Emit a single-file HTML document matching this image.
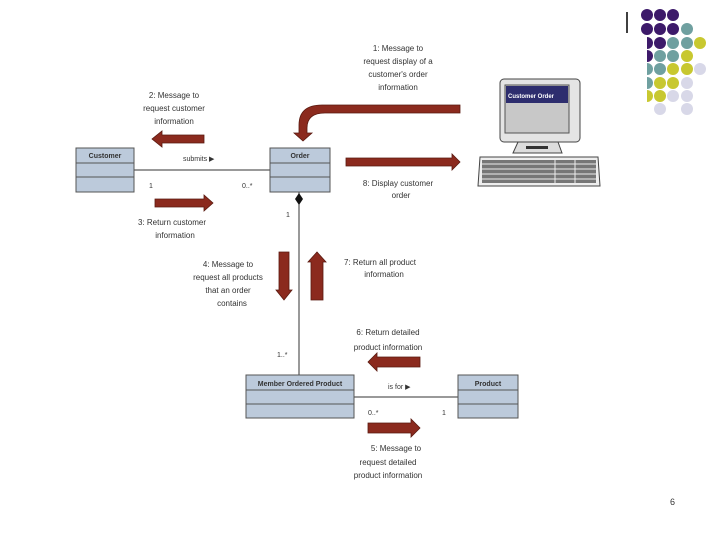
<!DOCTYPE html>
<html><head><meta charset="utf-8"><style>
html,body{margin:0;padding:0;background:#fff}
svg{display:block}
text{font-family:"Liberation Sans",sans-serif;fill:#333}
</style></head><body>
<svg width="720" height="540" viewBox="0 0 720 540" xmlns="http://www.w3.org/2000/svg">
<defs><clipPath id="cl"><rect x="647" y="0" width="73" height="540"/></clipPath></defs>
<!-- decoration -->
<line x1="627" y1="12" x2="627" y2="33" stroke="#000" stroke-width="1.5"/>
<g>
<circle cx="647" cy="15" r="6" fill="#3d1a6a"/><circle cx="660" cy="15" r="6" fill="#3d1a6a"/><circle cx="673" cy="15" r="6" fill="#3d1a6a"/>
<circle cx="647" cy="29" r="6" fill="#3d1a6a"/><circle cx="660" cy="29" r="6" fill="#3d1a6a"/><circle cx="673" cy="29" r="6" fill="#3d1a6a"/><circle cx="687" cy="29" r="6" fill="#6fa0a0"/>
<g clip-path="url(#cl)"><circle cx="647" cy="43" r="6" fill="#3d1a6a"/><circle cx="647" cy="56" r="6" fill="#3d1a6a"/><circle cx="647" cy="69" r="6" fill="#6fa0a0"/><circle cx="647" cy="83" r="6" fill="#6fa0a0"/><circle cx="647" cy="96" r="6" fill="#c8c830"/></g>
<circle cx="660" cy="43" r="6" fill="#3d1a6a"/><circle cx="673" cy="43" r="6" fill="#6fa0a0"/><circle cx="687" cy="43" r="6" fill="#6fa0a0"/><circle cx="700" cy="43" r="6" fill="#c8c830"/>
<circle cx="660" cy="56" r="6" fill="#6fa0a0"/><circle cx="673" cy="56" r="6" fill="#6fa0a0"/><circle cx="687" cy="56" r="6" fill="#c8c830"/>
<circle cx="660" cy="69" r="6" fill="#6fa0a0"/><circle cx="673" cy="69" r="6" fill="#c8c830"/><circle cx="687" cy="69" r="6" fill="#c8c830"/><circle cx="700" cy="69" r="6" fill="#d8d8e8"/>
<circle cx="660" cy="83" r="6" fill="#c8c830"/><circle cx="673" cy="83" r="6" fill="#c8c830"/><circle cx="687" cy="83" r="6" fill="#d8d8e8"/>
<circle cx="660" cy="96" r="6" fill="#c8c830"/><circle cx="673" cy="96" r="6" fill="#d8d8e8"/><circle cx="687" cy="96" r="6" fill="#d8d8e8"/>
<circle cx="660" cy="109" r="6" fill="#d8d8e8"/><circle cx="687" cy="109" r="6" fill="#d8d8e8"/>
</g>
<!-- computer -->
<rect x="500" y="79" width="80" height="63" rx="4" fill="#e4e4e4" stroke="#444"/>
<rect x="505" y="85" width="64" height="48" fill="#c8c8c8" stroke="#555"/>
<rect x="506" y="86" width="62" height="17" fill="#2d2d6e"/>
<text x="508" y="98" font-size="6" font-weight="bold" style="fill:#fff">Customer Order</text>
<path d="M513 153 L518 142 L558 142 L562 153 Z" fill="#ddd" stroke="#444"/>
<rect x="526" y="146" width="22" height="3" fill="#333"/>
<path d="M480 157 L598 157 L600 186 L478 186 Z" fill="#eee" stroke="#444"/>
<rect x="482" y="160" width="114" height="23" fill="#777"/>
<g stroke="#eee" stroke-width="1">
<line x1="482" y1="164" x2="596" y2="164"/><line x1="482" y1="169" x2="596" y2="169"/><line x1="482" y1="174" x2="596" y2="174"/><line x1="482" y1="179" x2="596" y2="179"/>
<line x1="555" y1="160" x2="555" y2="183"/><line x1="575" y1="160" x2="575" y2="183"/>
</g>
<!-- lines -->
<g stroke="#333" stroke-width="1">
<line x1="134" y1="170" x2="270" y2="170"/>
<line x1="299" y1="192" x2="299" y2="375"/>
<line x1="354" y1="397" x2="458" y2="397"/>
</g>
<path d="M299 193 L303 199 L299 205 L295 199 Z" fill="#111"/>
<!-- boxes -->
<g fill="#bccadb" stroke="#555">
<rect x="76" y="148" width="58" height="44"/><line x1="76" y1="163" x2="134" y2="163"/><line x1="76" y1="177" x2="134" y2="177"/>
<rect x="270" y="148" width="60" height="44"/><line x1="270" y1="163" x2="330" y2="163"/><line x1="270" y1="177" x2="330" y2="177"/>
<rect x="246" y="375" width="108" height="43"/><line x1="246" y1="390" x2="354" y2="390"/><line x1="246" y1="404" x2="354" y2="404"/>
<rect x="458" y="375" width="60" height="43"/><line x1="458" y1="390" x2="518" y2="390"/><line x1="458" y1="404" x2="518" y2="404"/>
</g>
<g font-size="7" font-weight="bold" text-anchor="middle">
<text x="105" y="158">Customer</text><text x="300" y="158">Order</text>
<text x="300" y="386">Member Ordered Product</text><text x="488" y="386">Product</text>
</g>
<!-- arrows -->
<g fill="#8b2a1e" stroke="#5a1a10" stroke-width="0.8">
<path d="M460 105 L460 113 L325 113 Q307 113 307 128 L307 133 L312 133 L303 141 L294 133 L299 133 L299 125 Q299 105 322 105 Z"/>
<path d="M346 158 L452 158 L452 154 L460 162 L452 170 L452 166 L346 166 Z"/>
<path d="M204 135 L204 143 L162 143 L162 147 L152 139 L162 131 L162 135 Z"/>
<path d="M155 199 L204 199 L204 195 L213 203 L204 211 L204 207 L155 207 Z"/>
<path d="M279 252 L289 252 L289 290 L292 290 L284 300 L276 290 L279 290 Z"/>
<path d="M311 300 L323 300 L323 262 L326 262 L317 252 L308 262 L311 262 Z"/>
<path d="M420 357 L420 367 L377 367 L377 371 L368 362 L377 353 L377 357 Z"/>
<path d="M368 423 L411 423 L411 419 L420 428 L411 437 L411 433 L368 433 Z"/>
</g>
<!-- labels -->
<g font-size="8" text-anchor="middle">
<text x="398" y="51">1: Message to</text><text x="398" y="64">request display of a</text><text x="398" y="77">customer's order</text><text x="398" y="90">information</text>
<text x="174" y="98">2: Message to</text><text x="174" y="111">request customer</text><text x="174" y="124">information</text>
<text x="172" y="225">3: Return customer</text><text x="175" y="238">information</text>
<text x="228" y="267">4: Message to</text><text x="228" y="280">request all products</text><text x="228" y="293">that an order</text><text x="232" y="306">contains</text>
<text x="380" y="265">7: Return all product</text><text x="384" y="277">information</text>
<text x="388" y="335">6: Return detailed</text><text x="388" y="350">product information</text>
<text x="396" y="451">5: Message to</text><text x="388" y="465">request detailed</text><text x="388" y="478">product information</text>
<text x="398" y="186">8: Display customer</text><text x="401" y="198">order</text>
</g>
<g font-size="7">
<text x="183" y="161">submits ▶</text><text x="149" y="188">1</text><text x="242" y="188">0..*</text>
<text x="286" y="217">1</text><text x="277" y="357">1..*</text>
<text x="388" y="389">is for ▶</text><text x="368" y="415">0..*</text><text x="442" y="415">1</text>
</g>
<text x="670" y="505" font-size="9">6</text>
</svg>
</body></html>
